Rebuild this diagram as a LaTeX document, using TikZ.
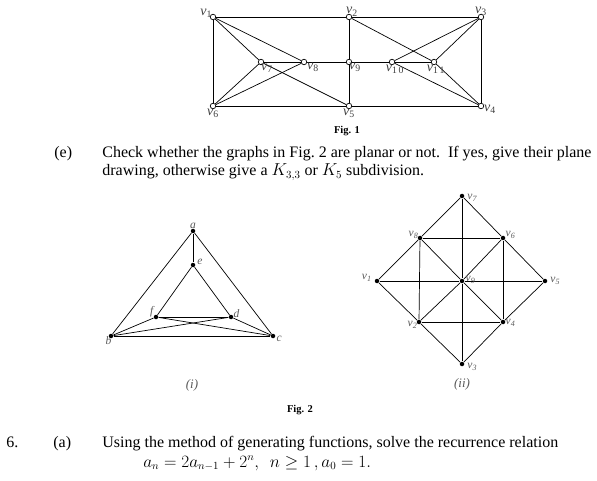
\documentclass[tikz,border=0pt]{standalone}
\usepackage{fontspec}
\setmainfont{Liberation Serif}
\usepackage{amsmath}
\usepackage{amssymb}
\usetikzlibrary{calc}
\usetikzlibrary{positioning}

\newcommand{\vx}[1]{\textit{v}\textsubscript{#1}}

\tikzset{
  openv/.style={circle, draw, fill=white, inner sep=0pt, minimum size=5.5pt, line width=0.7pt},
  dotv/.style={circle, fill=black, inner sep=0pt, minimum size=4.5pt},
  vlab/.style={font=\fontsize{14}{14}\selectfont, text=black!75, inner sep=0.5pt},
  slab/.style={font=\fontsize{11.5}{12}\selectfont\itshape, text=black!65, inner sep=0.5pt},
  body/.style={font=\fontsize{16}{18}\selectfont, anchor=base west, inner sep=0pt},
  figcap/.style={font=\fontsize{10.5}{12}\selectfont\bfseries, inner sep=0pt},
}

\begin{document}
\begin{tikzpicture}[x=1pt, y=-1pt, line width=0.7pt]
				\useasboundingbox (0,0) rectangle (597,481);
				
				% Fig. 1 vertices
				\node[openv] (v1) at (213,17) {};
				\node[openv] (v2) at (349,17) {};
				\node[openv] (v3) at (481,17) {};
				\node[openv] (v4) at (481,106) {};
				\node[openv] (v5) at (349,106) {};
				\node[openv] (v6) at (213,106) {};
				\node[openv] (v7) at (261,62) {};
				\node[openv] (v8) at (304,62) {};
				\node[openv] (v9) at (349,62) {};
				\node[openv] (v10) at (392,62) {};
				\node[openv] (v11) at (434,62) {};
				
				% Fig. 1 edges
				\foreach \a/\b in {v1/v2, v2/v3, v3/v4, v4/v5, v5/v6, v6/v1,
				                   v2/v9, v9/v5, v7/v8, v8/v9, v9/v10, v10/v11,
				                   v1/v7, v1/v8, v6/v7, v6/v8, v7/v5,
				                   v2/v11, v3/v10, v3/v11, v4/v10, v4/v11}
				\draw (\a) -- (\b);
				
				% Fig. 1 labels
				\node[vlab, above left=-4pt and -2pt of v1] (l1) {\vx{1}};
				\node[vlab, above=-3pt of v2, xshift=3pt] (l2) {\vx{2}};
				\node[vlab, above=-3pt of v3] (l3) {\vx{3}};
				\node[vlab, below right=-4pt and 0pt of v4] (l4) {\vx{4}};
				\node[vlab, below=-1pt of v5] (l5) {\vx{5}};
				\node[vlab, below=-1pt of v6] (l6) {\vx{6}};
				\node[vlab, below right=-1pt and -3pt of v7] (l7) {\vx{7}};
				\node[vlab, below right=-2pt and 0pt of v8] (l8) {\vx{8}};
				\node[vlab, below right=-2pt and -3pt of v9] (l9) {\vx{9}};
				\node[vlab, below=-1pt of v10, xshift=3pt] (l10) {\vx{1\,0}};
				\node[vlab, below=-1pt of v11, xshift=2pt] (l11) {\vx{1\,1}};
				\node[figcap] (fig1) at (347,131) {Fig. 1};
				
				% Question (e)
				\node[body] (qe) at (54,158) {(e)};
				\node[body] (qetext) at (102,158) {Check whether the graphs in Fig.~2 are planar or not.\ \ If yes, give their plane};
				\node[body] (qetext2) at (102,176) {drawing, otherwise give a $K_{3,3}$ or $K_5$ subdivision.};
				
				% Fig. 2 (i) vertices
				\node[dotv] (a) at (193,231) {};
				\node[dotv] (e) at (193,265) {};
				\node[dotv] (f) at (156,317) {};
				\node[dotv] (d) at (231,317) {};
				\node[dotv] (b) at (111,336) {};
				\node[dotv] (c) at (273,336) {};
				
				% Fig. 2 (i) edges
				\foreach \a/\b in {a/b, a/c, a/e, e/f, e/d, f/d, b/c, b/f, b/d, f/c, d/c}
				\draw (\a) -- (\b);
				
				% Fig. 2 (i) labels
				\node[slab, above=-1pt of a] (la) {a};
				\node[slab, right=1pt of e, yshift=3pt] (le) {e};
				\node[slab, above left=-3pt and 0pt of f] (lf) {f};
				\node[slab, above right=-3pt and 0pt of d] (ld) {d};
				\node[slab, below left=-2pt and -3pt of b] (lb) {b};
				\node[slab, below right=-3pt and 1pt of c] (lc) {c};
				\node[slab, font=\fontsize{13}{14}\selectfont\itshape] (capi) at (192,385) {(i)};
				
				% Fig. 2 (ii) vertices
				\node[dotv] (w7) at (462,196) {};
				\node[dotv] (w8) at (420,238) {};
				\node[dotv] (w6) at (503,238) {};
				\node[dotv] (w1) at (377,281) {};
				\node[dotv] (w9) at (462,281) {};
				\node[dotv] (w5) at (545,281) {};
				\node[dotv] (w2) at (419,322) {};
				\node[dotv] (w4) at (503,322) {};
				\node[dotv] (w3) at (462,364) {};
				
				% Fig. 2 (ii) edges
				\foreach \a/\b in {w7/w8, w8/w1, w1/w2, w2/w3, w3/w4, w4/w5, w5/w6, w6/w7,
				                   w1/w9, w9/w5, w7/w9, w9/w3, w8/w6, w2/w4, w8/w2, w6/w4,
				                   w8/w9, w9/w4, w6/w9, w9/w2}
				\draw (\a) -- (\b);
				
				% Fig. 2 (ii) labels
				\node[slab, right=2pt of w7, yshift=-2pt] (k7) {\vx{7}};
				\node[slab, above left=-3pt and -1pt of w8] (k8) {\vx{8}};
				\node[slab, above right=-3pt and 0pt of w6] (k6) {\vx{6}};
				\node[slab, left=2pt of w1, yshift=3pt] (k1) {\vx{1}};
				\node[slab, above right=-5pt and 1pt of w9] (k9) {\vx{9}};
				\node[slab, right=2pt of w5] (k5) {\vx{5}};
				\node[slab, below left=-3pt and -1pt of w2] (k2) {\vx{2}};
				\node[slab, below right=-5pt and 0pt of w4] (k4) {\vx{4}};
				\node[slab, right=2pt of w3, yshift=-3pt] (k3) {\vx{3}};
				\node[slab, font=\fontsize{13}{14}\selectfont\itshape] (capii) at (462,384) {(ii)};
				\node[figcap] (fig2) at (300,410) {Fig. 2};
				
				% Question 6 (a)
				\node[body] (q6) at (6,447) {6.};
				\node[body] (q6a) at (53,447) {(a)};
				\node[body] (q6text) at (102,447) {Using the method of generating functions, solve the recurrence relation};
				\node[body] (q6eq) at (143,467) {$a_n = 2a_{n-1} + 2^n,\ \ n \geq 1\,, a_0 = 1.$};
			\end{tikzpicture}
\end{document}
